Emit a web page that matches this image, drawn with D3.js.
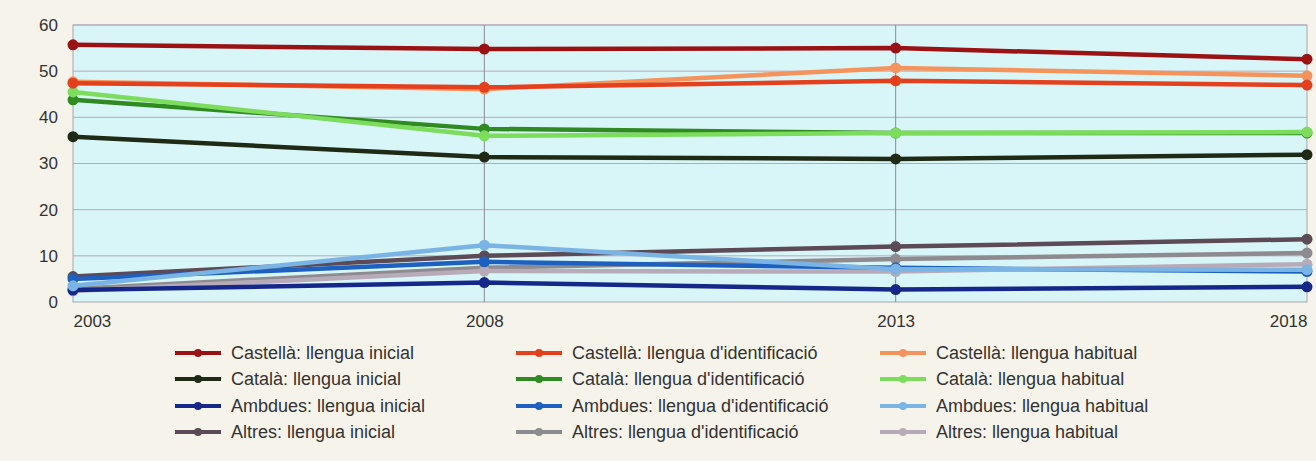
<!DOCTYPE html>
<html><head><meta charset="utf-8">
<script src="https://cdn.jsdelivr.net/npm/d3@7"></script>
<style>
html,body{margin:0;padding:0;background:#f6f4ea;}
svg{display:block;}
text{font-family:"Liberation Sans",Arial,sans-serif;fill:#333;}
</style></head>
<body>
<svg id="c" width="1316" height="461"></svg>
<script>
const years = [2003, 2008, 2013, 2018];
const yTicks = [0, 10, 20, 30, 40, 50, 60];
const seriesNames = [
  "Castellà: llengua inicial", "Castellà: llengua d'identificació", "Castellà: llengua habitual",
  "Català: llengua inicial", "Català: llengua d'identificació", "Català: llengua habitual",
  "Ambdues: llengua inicial", "Ambdues: llengua d'identificació", "Ambdues: llengua habitual",
  "Altres: llengua inicial", "Altres: llengua d'identificació", "Altres: llengua habitual"
];
const castellaInicial = [55.7, 54.8, 55.0, 52.6];
const castellaIdentificacio = [47.4, 46.5, 47.9, 47.0];
const castellaHabitual = [47.7, 46.1, 50.7, 49.0];
const catalaInicial = [35.8, 31.4, 31.0, 31.9];
const catalaIdentificacio = [43.8, 37.5, 36.6, 36.6];
const catalaHabitual = [45.5, 36.0, 36.6, 36.8];
const ambduesInicial = [2.6, 4.2, 2.7, 3.3];
const ambduesIdentificacio = [5.0, 8.7, 7.4, 6.6];
const ambduesHabitual = [3.5, 12.3, 7.1, 7.0];
const altresInicial = [5.5, 10.0, 12.0, 13.6];
const altresIdentificacio = [2.8, 7.4, 9.3, 10.6];
const altresHabitual = [2.4, 6.7, 6.6, 8.2];
const seriesValues = [castellaInicial, castellaIdentificacio, castellaHabitual,
  catalaInicial, catalaIdentificacio, catalaHabitual,
  ambduesInicial, ambduesIdentificacio, ambduesHabitual,
  altresInicial, altresIdentificacio, altresHabitual];
const colors = ["#9a1214", "#e4401e", "#f4935c",
  "#1f2a16", "#2f8a22", "#7cdc5c",
  "#15288a", "#1e60c0", "#7ab4e4",
  "#5c4a56", "#8e8b90", "#b8abb9"];

const svg = d3.select("#c");
const L = 73, R = 1307, T = 25, B = 302;
const x = d3.scalePoint().domain(years).range([L, R]);
const y = d3.scaleLinear().domain([0, 60]).range([B, T]);

svg.append("rect").attr("x", L).attr("y", T).attr("width", R - L).attr("height", B - T)
  .attr("fill", "#d8f5f7").attr("stroke", "#a9a4ad").attr("stroke-width", 1);

svg.append("g").selectAll("line").data(yTicks.filter(d => d > 0)).join("line")
  .attr("x1", L).attr("x2", R).attr("y1", d => y(d)).attr("y2", d => y(d))
  .attr("stroke", "#b7a9bd").attr("stroke-width", 1);
svg.append("g").selectAll("line").data(years.slice(1, -1)).join("line")
  .attr("x1", d => x(d)).attr("x2", d => x(d)).attr("y1", T).attr("y2", B)
  .attr("stroke", "#8e8a92").attr("stroke-width", 1);

const yAxis = d3.axisLeft(y).tickValues(yTicks).tickSize(0).tickPadding(15);
const gy = svg.append("g").attr("transform", `translate(${L},0)`).call(yAxis);
gy.select(".domain").remove();
gy.selectAll("text").style("font-size", "17px").attr("fill", "#3a3a3a")
  .style("font-family", "'Liberation Sans',Arial,sans-serif");

const xAxis = d3.axisBottom(x).tickSize(0).tickPadding(13);
const gx = svg.append("g").attr("transform", `translate(0,${B})`).call(xAxis);
gx.select(".domain").remove();
gx.selectAll("text").style("font-size", "17px").attr("fill", "#3a3a3a")
  .style("font-family", "'Liberation Sans',Arial,sans-serif")
  .attr("text-anchor", (d, i) => i === 0 ? "start" : (i === years.length - 1 ? "end" : "middle"));

const line = d3.line().x((d, i) => x(years[i])).y(d => y(d));
const order = [9, 10, 11, 6, 7, 8, 3, 4, 5, 0, 2, 1];
order.forEach(k => {
  const g = svg.append("g");
  g.append("path").datum(seriesValues[k]).attr("d", line)
    .attr("fill", "none").attr("stroke", colors[k]).attr("stroke-width", 4.5)
    .attr("stroke-linejoin", "round");
  g.selectAll("circle").data(seriesValues[k]).join("circle")
    .attr("cx", (d, i) => x(years[i])).attr("cy", d => y(d)).attr("r", 5.5)
    .attr("fill", colors[k]);
});

const colX = [175, 516, 880];
const rowY = [353, 379, 406, 432];
seriesNames.forEach((name, k) => {
  const c = k % 3, r = Math.floor(k / 3);
  const g = svg.append("g").attr("transform", `translate(${colX[c]},${rowY[r]})`);
  g.append("line").attr("x1", 0).attr("x2", 46).attr("y1", 0).attr("y2", 0)
    .attr("stroke", colors[k]).attr("stroke-width", 4);
  g.append("circle").attr("cx", 23).attr("cy", 0).attr("r", 4).attr("fill", colors[k]);
  g.append("text").attr("x", 56).attr("y", 6).text(name)
    .style("font-size", "18px").attr("fill", "#2e2e2e");
});
</script>
</body></html>
